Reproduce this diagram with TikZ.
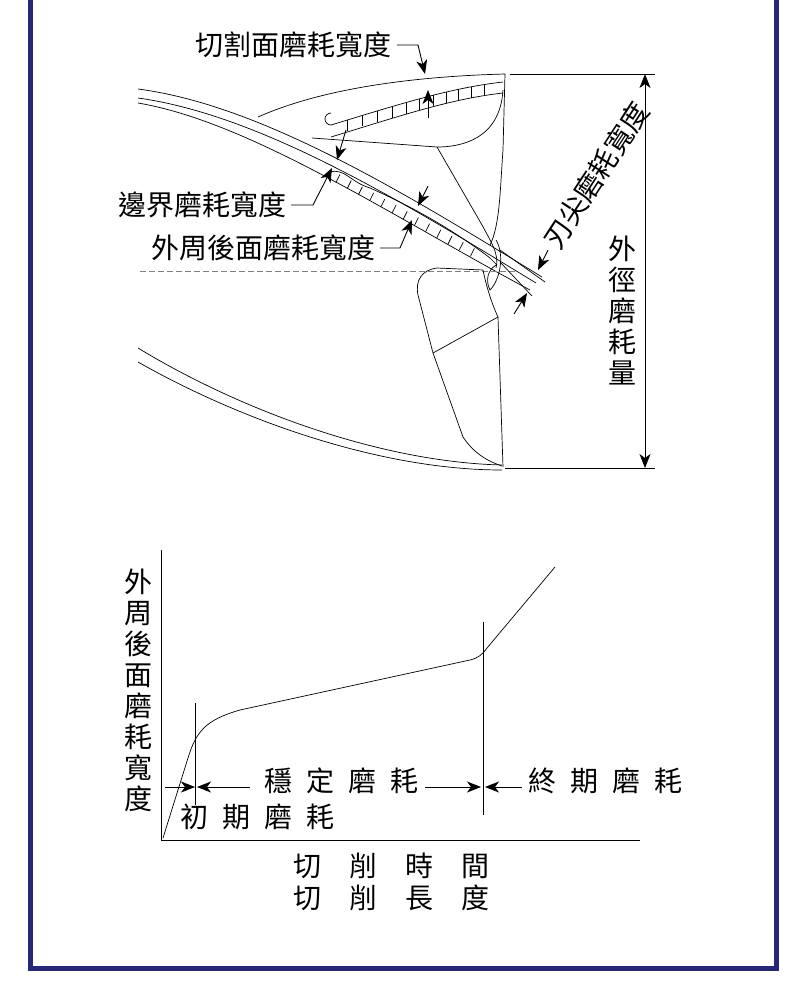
\documentclass[tikz,border=0pt]{standalone}
\usepackage{fontspec}
\setmainfont{Noto Sans CJK TC}
\usetikzlibrary{arrows.meta}
\definecolor{navy}{RGB}{40,40,120}
\begin{document}
\begin{tikzpicture}[x=1pt,y=-1pt,line width=0.9pt,
  lab/.style={font=\fontsize{28}{31}\selectfont,inner sep=0pt},
  arr/.style={-{Stealth[length=14pt,width=11pt,inset=4pt]}},
  darr/.style={{Stealth[length=14pt,width=11pt,inset=4pt]}-{Stealth[length=14pt,width=11pt,inset=4pt]}},
  thin/.style={line width=0.7pt}]
\useasboundingbox (0,0) rectangle (800,993);
\fill[white] (0,0) rectangle (800,993);
\draw[navy,line width=5pt] (30,-5) -- (30,968) -- (776,968) -- (776,-5);

% ---- drill ----
\draw[thin] (138,89) .. controls (260,105) and (400,190) .. (542,277);
\draw[thin] (138,98) .. controls (260,115) and (400,200) .. (536,283);
\draw[thin] (138,103) .. controls (250,122) and (390,215) .. (530,290);
% top tooth
\draw[thin] (258,117) .. controls (330,85) and (430,76) .. (505,74) -- (503,150) .. controls (500,190) and (500,225) .. (490,245);
\draw[thin] (503,90) .. controls (500,140) and (460,147) .. (437,147) -- (312,138);
\draw[thin] (437,147) -- (482,225) .. controls (490,240) and (500,255) .. (496,268);
% cutting face wear band
\draw[thin] (331,125) .. controls (400,104) and (450,88) .. (503,82);
\draw[thin] (331,137) .. controls (400,116) and (450,99) .. (503,93);
\draw[thin] (331,125) arc (90:270:6);
\foreach \t in {0.08,0.16,...,0.96}{
  \pgfmathsetmacro\xx{(1-\t)^3*331+3*(1-\t)^2*\t*400+3*(1-\t)*\t^2*450+\t^3*503}
  \pgfmathsetmacro\yy{(1-\t)^3*125+3*(1-\t)^2*\t*104+3*(1-\t)*\t^2*88+\t^3*82}
  \draw[thin] (\xx,\yy) -- ++(0,11);}
% flank wear band
\draw[thin] (330,172) .. controls (345,168) and (350,182) .. (370,188) .. controls (420,210) and (460,235) .. (490,258);
\foreach \t in {0.05,0.12,...,0.95}{
  \draw[thin] ({332+160*\t},{170+88*\t}) -- ++(-4,8);}
\draw[thin] (490,258) -- (497,265);
\draw[thin] (496,240) .. controls (505,255) and (500,280) .. (490,290) .. controls (485,280) and (488,270) .. (496,265);
% dashed centerline
\draw[thin,dashed,dash pattern=on 6pt off 3pt,gray] (140,271) -- (515,271);
% lower tooth
\draw[thin] (483,270) -- (437,268) .. controls (422,270) and (415,280) .. (418,295) -- (433,353) -- (463,437) .. controls (475,455) and (490,462) .. (502,466);
\draw[thin] (483,270) .. controls (485,280) and (490,300) .. (498,317) -- (503,467);
\draw[thin] (433,353) -- (498,317);
\draw[thin] (138,348) .. controls (240,410) and (380,462) .. (502,465);
\draw[thin] (138,362) .. controls (240,420) and (380,470) .. (502,470);
% reference lines and diameter wear
\draw[thin] (510,74) -- (655,74);
\draw[thin] (505,468) -- (655,468);
\coordinate (dT) at (645,74); \coordinate (dB) at (645,468);
\draw[darr] (dT) -- (dB);
\node[lab,fill=white,align=center,inner sep=1pt] (dwear) at (622,310) {外\\徑\\磨\\耗\\量};
% tip wear
\draw[thin] (500,250) -- (545,282);
\draw[thin] (500,262) -- (532,296);
\coordinate (tA) at (548,250); \coordinate (tAe) at (538,270);
\coordinate (tB) at (514,314); \coordinate (tBe) at (527,293);
\draw[arr] (tA) -- (tAe);
\draw[arr] (tB) -- (tBe);
\node[lab,rotate=57,anchor=west] (tipl) at (550,246) {刃尖磨耗寬度};

% labels top
\node[lab,anchor=east] (cutl) at (392,45) {切割面磨耗寬度};
\coordinate (c1) at (418,45);
\draw[arr] (397,45) -- (c1) -- (425,74);
\draw[arr] (428,118) -- (428,90);
\node[lab,anchor=east] (bndl) at (287,205) {邊界磨耗寬度};
\coordinate (b1) at (313,205);
\draw[arr] (291,205) -- (b1) -- (332,168);
\draw[arr] (346,130) -- (337,160);
\node[lab,anchor=east] (fll) at (376,248) {外周後面磨耗寬度};
\coordinate (f1) at (400,248);
\draw[arr] (380,248) -- (f1) -- (412,220);
\draw[arr] (428,186) -- (418,206);

% ---- graph ----
\coordinate (O) at (161,840);
\draw[thin] (161,550) -- (O) -- (640,840);
\draw[thin] (163,838) -- (188,758) .. controls (196,732) and (205,720) .. (240,710) -- (470,660) .. controls (478,658) and (482,655) .. (487,648) -- (555,567);
\draw[thin] (195,703) -- (195,805);
\draw[thin] (483,622) -- (483,815);
\draw[arr] (165,787) -- (195,787);
\draw[arr] (250,787) -- (197,787);
\node[lab,anchor=west] (stab) at (264,781) {穩\enspace 定\enspace 磨\enspace 耗};
\draw[arr] (425,787) -- (481,787);
\draw[arr] (522,787) -- (485,787);
\node[lab,anchor=west] (endw) at (528,781) {終\enspace 期\enspace 磨\enspace 耗};
\node[lab,anchor=west] (init) at (180,817) {初\enspace 期\enspace 磨\enspace 耗};
\node[lab,align=center] (ylab) at (138,690) {外\\周\\後\\面\\磨\\耗\\寬\\度};
\node[lab] (x1) at (391,866) {切\hspace{28pt}削\hspace{28pt}時\hspace{28pt}間};
\node[lab] (x2) at (391,898) {切\hspace{28pt}削\hspace{28pt}長\hspace{28pt}度};
\end{tikzpicture}
\end{document}
